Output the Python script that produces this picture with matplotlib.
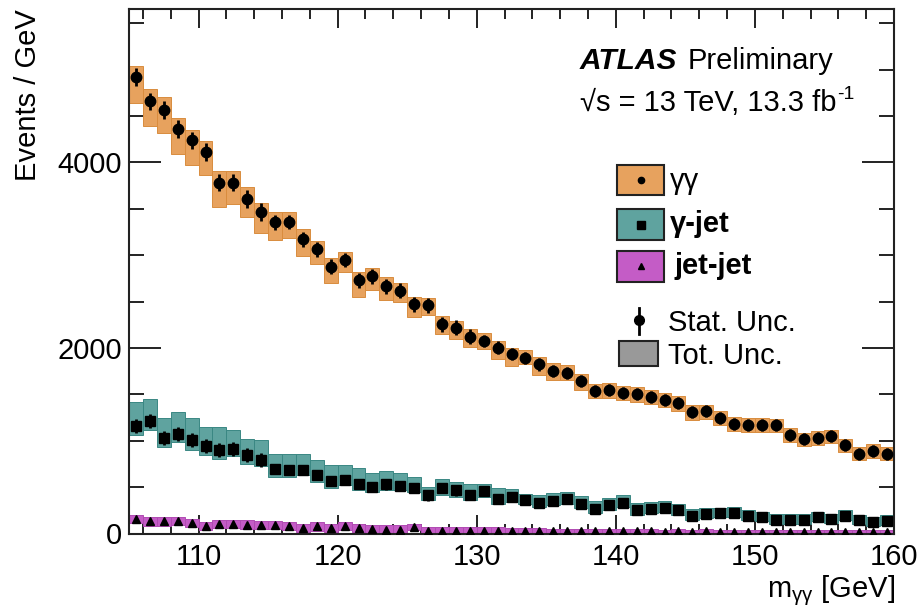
import matplotlib
matplotlib.use('Agg')
import matplotlib.pyplot as plt
from matplotlib.patches import Rectangle
from matplotlib.lines import Line2D
from matplotlib.ticker import MultipleLocator
import numpy as np

plt.rcParams['font.family'] = ['Liberation Sans', 'DejaVu Sans']
plt.rcParams['mathtext.fontset'] = 'custom'
plt.rcParams['mathtext.rm'] = 'Liberation Sans'
plt.rcParams['mathtext.it'] = 'Liberation Sans:italic'
plt.rcParams['mathtext.bf'] = 'Liberation Sans:bold'

# ---------------- data ----------------
bin_lo = list(range(105, 160))  # 1 GeV bins from 105 to 160

gg_vals = [4921, 4658, 4568, 4363, 4237, 4114, 3783, 3783, 3607, 3463,
           3355, 3358, 3171, 3063, 2876, 2948, 2732, 2775, 2667, 2617,
           2470, 2462, 2254, 2217, 2120, 2077, 2005, 1933, 1897, 1822,
           1753, 1735, 1641, 1537, 1544, 1515, 1501, 1472, 1444, 1407,
           1310, 1318, 1250, 1185, 1174, 1174, 1166, 1066, 1015, 1033,
           1048, 950, 861, 889, 861]
gg_up = [120, 130, 135, 115, 115, 120, 120, 120, 130, 105,
         110, 105, 110, 95, 95, 90, 90, 90, 100, 85,
         80, 75, 90, 70, 90, 85, 75, 70, 85, 80,
         80, 85, 75, 80, 75, 75, 75, 75, 75, 72,
         72, 72, 72, 72, 72, 72, 72, 72, 72, 72,
         72, 72, 72, 72, 72]
gg_dn = [280, 270, 245, 270, 265, 250, 265, 230, 190, 220,
         190, 175, 180, 160, 170, 125, 180, 150, 145, 120,
         135, 110, 105, 115, 110, 85, 120, 125, 75, 115,
         100, 85, 95, 80, 80, 80, 80, 80, 85, 85,
         90, 85, 80, 80, 78, 78, 75, 75, 75, 75,
         72, 72, 72, 72, 72]
gg_stat = [95] * 10 + [80] * 15 + [65] * 30

gj_vals = [1156, 1210, 1030, 1077, 1004, 940, 904, 915, 842, 795,
           698, 688, 688, 634, 565, 580, 536, 500, 529, 511,
           493, 410, 493, 464, 418, 454, 375, 392, 356, 327,
           349, 367, 320, 266, 302, 327, 248, 266, 277, 248,
           194, 212, 219, 223, 194, 176, 148, 148, 148, 176,
           158, 194, 148, 122, 140]
gj_up = [262, 244, 219, 233, 245, 208, 244, 205, 181, 209,
         155, 165, 165, 161, 169, 154, 173, 151, 144, 140,
         115, 90, 98, 90, 118, 82, 118, 90, 72, 85,
         85, 85, 85, 85, 85, 83, 80, 75, 75, 75,
         65, 65, 60, 60, 60, 60, 60, 60, 60, 60,
         55, 55, 55, 55, 55]
gj_dn = [98, 98, 98, 91, 100, 98, 105, 83, 90, 72,
         90, 80, 62, 80, 72, 62, 72, 54, 65, 47,
         47, 54, 83, 72, 55, 62, 62, 54, 43, 45,
         45, 45, 45, 45, 45, 43, 45, 45, 45, 45,
         45, 45, 45, 45, 45, 45, 45, 45, 45, 45,
         45, 45, 45, 45, 45]
gj_stat = [75] * 10 + [55] * 15 + [40] * 30

jj_vals = [159, 130, 130, 133, 115, 79, 104, 104, 97, 94,
           94, 79, 62, 76, 57, 79, 57, 51, 43, 43,
           68, 32, 32, 32, 32, 32, 32, 25, 28, 25,
           28, 25, 25, 22, 25, 22, 22, 25, 20, 22,
           20, 22, 20, 18, 20, 18, 20, 18, 15, 18,
           15, 18, 15, 18, 15]
jj_err = [45] * 20 + [35] * 10 + [22] * 25
jj_stat = [20] * 55

# ---------------- figure ----------------
W, H = 923, 611
fig = plt.figure(figsize=(W / 100, H / 100), dpi=100)
fx = lambda x: x / W
fy = lambda y: 1 - y / H
ax = fig.add_axes([fx(129), fy(533.5), fx(894) - fx(129), fy(8.5) - fy(533.5)])

centers = np.array(bin_lo) + 0.5

C_GG, E_GG = '#E7A25E', '#D98C3E'
C_GJ, E_GJ = '#5FA39F', '#3A8783'
C_JJ, E_JJ = '#C45CC6', '#B04AB2'


def band(vals, up, dn, color, edge):
    v = np.array(vals, float)
    lo = np.maximum(v - np.array(dn, float), 0)
    hi = v + np.array(up, float)
    ax.bar(centers, hi - lo, bottom=lo, width=1.0, color=color,
           edgecolor=edge, linewidth=0.7, zorder=2)


band(gg_vals, gg_up, gg_dn, C_GG, E_GG)
band(gj_vals, gj_up, gj_dn, C_GJ, E_GJ)
band(jj_vals, jj_err, jj_err, C_JJ, E_JJ)

ax.errorbar(centers, gg_vals, yerr=gg_stat, fmt='o', color='black', ms=7.5,
            elinewidth=2, capsize=0, zorder=4)
ax.errorbar(centers, gj_vals, yerr=gj_stat, fmt='s', color='black', ms=6.5,
            elinewidth=2, capsize=0, zorder=4)
ax.errorbar(centers, jj_vals, yerr=jj_stat, fmt='^', color='black', ms=6,
            elinewidth=1.5, capsize=0, zorder=4)

ax.set_xlim(105, 160)
ax.set_ylim(0, 5660)
ax.xaxis.set_major_locator(MultipleLocator(10))
ax.xaxis.set_minor_locator(MultipleLocator(2))
ax.yaxis.set_major_locator(MultipleLocator(2000))
ax.yaxis.set_minor_locator(MultipleLocator(500))
ax.tick_params(which='both', direction='in', top=True, right=True,
               labelsize=21, color='#222222', width=1.4)
ax.tick_params(axis='x', which='major', length=14, pad=7)
ax.tick_params(axis='x', which='minor', length=7)
ax.tick_params(axis='y', which='major', length=23, pad=5)
ax.tick_params(axis='y', which='minor', length=11)
for s in ax.spines.values():
    s.set_linewidth(1.5)
    s.set_color('#222222')

fig.text(fx(28), fy(9), 'Events / GeV', rotation=90, ha='center', va='top',
         fontsize=21)
fig.text(fx(895), fy(597), r'm$_{\rm γγ}$ [GeV]', ha='right', va='baseline',
         fontsize=21)

fig.text(fx(580), fy(69), 'ATLAS', fontsize=21.5, fontweight='bold',
         fontstyle='italic', va='baseline')
fig.text(fx(688), fy(69), 'Preliminary', fontsize=21, va='baseline')
t = fig.text(fx(580), fy(111), '√s = 13 TeV, 13.3 fb', fontsize=21,
             va='baseline')
fig.canvas.draw()
bb = t.get_window_extent()
fig.text(bb.x1 / W + 0.5 / W, fy(99), '-1', fontsize=14, va='baseline')

# legend
def lbox(x0, y0, x1, y1, color):
    r = Rectangle((fx(x0), fy(y1)), fx(x1) - fx(x0), fy(y0) - fy(y1),
                  transform=fig.transFigure, facecolor=color,
                  edgecolor='#222222', linewidth=1.5)
    fig.add_artist(r)


def lmark(x, y, m, ms):
    fig.add_artist(Line2D([fx(x)], [fy(y)], marker=m, ms=ms, color='black',
                          transform=fig.transFigure, linestyle='none'))


lbox(617, 165, 664, 195.5, C_GG)
lmark(640.5, 180, 'o', 4.5)
fig.text(fx(670), fy(189), 'γγ', fontsize=21, va='baseline')

lbox(617, 209, 664, 240, C_GJ)
lmark(640.5, 224.5, 's', 5.5)
fig.text(fx(670), fy(232.5), 'γ-jet', fontsize=21, va='baseline',
         fontweight='bold')

lbox(617, 251, 664, 281.5, C_JJ)
lmark(640.5, 266, '^', 4.5)
fig.text(fx(674), fy(273.5), 'jet-jet', fontsize=21, va='baseline',
         fontweight='bold')

fig.add_artist(Line2D([fx(638.5), fx(638.5)], [fy(308), fy(334)],
                      color='black', linewidth=2, transform=fig.transFigure))
lmark(638.5, 320, 'o', 7)
fig.text(fx(668), fy(331.5), 'Stat. Unc.', fontsize=21, va='baseline')

lbox(619, 341, 658, 365.5, '#999999')
fig.text(fx(668), fy(363.5), 'Tot. Unc.', fontsize=21, va='baseline')

fig.savefig('out.png', dpi=100)
